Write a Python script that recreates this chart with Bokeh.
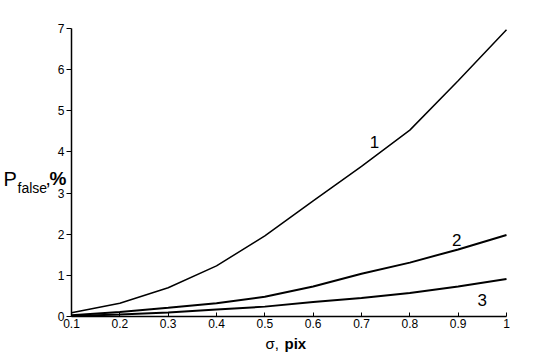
from bokeh.plotting import figure
from bokeh.models import Range1d, FixedTicker, Label
from bokeh.embed import file_html
from bokeh.resources import INLINE

sigma = [0.1, 0.2, 0.3, 0.4, 0.5, 0.6, 0.7, 0.8, 0.9, 1.0]
curve1 = [0.09, 0.32, 0.70, 1.23, 1.96, 2.81, 3.65, 4.53, 5.73, 6.97]
curve2 = [0.03, 0.11, 0.21, 0.32, 0.48, 0.73, 1.04, 1.31, 1.63, 1.98]
curve3 = [0.01, 0.05, 0.10, 0.17, 0.24, 0.35, 0.45, 0.57, 0.73, 0.91]
curve_names = ["1", "2", "3"]
name_x = [0.727, 0.897, 0.95]
name_y = [4.23, 1.85, 0.39]
x_ticks = [0.1, 0.2, 0.3, 0.4, 0.5, 0.6, 0.7, 0.8, 0.9, 1.0]
x_tick_labels = ["0.1", "0.2", "0.3", "0.4", "0.5", "0.6", "0.7", "0.8", "0.9", "1"]
y_ticks = [0, 1, 2, 3, 4, 5, 6, 7]

FONT = "Liberation Sans"

W, H = 552, 352
LEFT, RIGHT, TOP, BOTTOM = 71, 46, 28, 36
x0, x1, y0, y1 = 0.1, 1.0, 0.0, 7.0
xs = (x1 - x0) / (W - LEFT - RIGHT)
ys = (y1 - y0) / (H - TOP - BOTTOM)

p = figure(width=W, height=H, output_backend="svg", toolbar_location=None,
           x_range=Range1d(x0 - LEFT * xs, x1 + RIGHT * xs),
           y_range=Range1d(y0 - BOTTOM * ys, y1 + TOP * ys),
           min_border_left=0, min_border_right=0, min_border_top=0, min_border_bottom=0)
p.outline_line_color = None
p.xgrid.visible = False
p.ygrid.visible = False
p.background_fill_color = "white"
p.border_fill_color = "white"

for yv, w in zip([curve1, curve2, curve3], [1.5, 2.0, 2.0]):
    p.line(sigma, yv, line_color="black", line_width=w)

p.xaxis.fixed_location = y0
p.yaxis.fixed_location = x0
p.xaxis.bounds = (x0, x1)
p.yaxis.bounds = (y0, y1)
p.xaxis.ticker = FixedTicker(ticks=x_ticks)
p.xaxis.major_label_overrides = {t: l for t, l in zip(x_ticks, x_tick_labels)}
p.yaxis.ticker = FixedTicker(ticks=y_ticks)
for ax in (p.xaxis, p.yaxis):
    ax.axis_line_color = "black"
    ax.axis_line_width = 1.5
    ax.major_tick_line_color = "black"
    ax.minor_tick_line_color = None
    ax.major_label_text_font = FONT
    ax.major_label_text_font_size = "12px"
    ax.major_label_text_color = "black"
p.xaxis.major_tick_in = 4
p.xaxis.major_tick_out = 0
p.xaxis.major_label_standoff = 2
p.yaxis.major_tick_in = 0
p.yaxis.major_tick_out = 5
p.yaxis.major_label_standoff = 2

for n, x, y in zip(curve_names, name_x, name_y):
    p.add_layout(Label(x=x, y=y, text=n, text_font=FONT, text_font_size="17px",
                       text_align="center", text_baseline="middle", text_color="black"))


def title_part(x, y, text, size, bold=False):
    p.add_layout(Label(x=x, y=y, x_units="screen", y_units="screen", text=text,
                       text_font=FONT, text_font_size=size,
                       text_font_style="bold" if bold else "normal",
                       text_align="left", text_baseline="alphabetic", text_color="black"))


# axis titles (screen units; the frame is the whole canvas)
title_part(265, 9, "σ,", "15px")
title_part(284, 9, "pix", "15px", bold=True)
title_part(3, 174, "P", "20px")
title_part(17, 165, "false", "14px")
title_part(45, 174, ",", "19px")
title_part(49, 174, "%", "19px", bold=True)

open("out.html", "w").write(file_html(p, INLINE))
